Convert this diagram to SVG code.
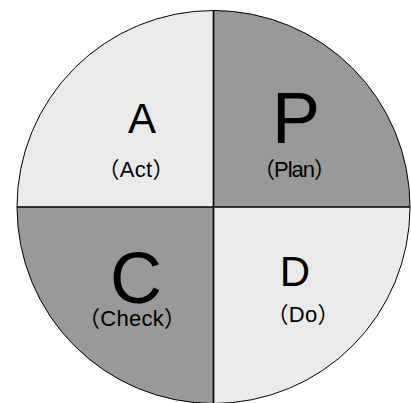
<svg xmlns="http://www.w3.org/2000/svg" width="411" height="403" viewBox="0 0 411 403">
  <style>
    .light { fill: #eaeaea; }
    .dark { fill: #999999; }
    .divider { stroke: #000; stroke-width: 1.6; fill: none; }
    .rim { stroke: #000; stroke-width: 1; fill: none; }
    text { font-family: "Liberation Sans", "Noto Sans CJK JP", sans-serif; fill: #000; text-anchor: middle; }
    .big { font-size: 42px; }
    .huge { font-size: 72px; }
    .sub { font-size: 22px; }
  </style>
  <rect width="411" height="403" fill="#ffffff"/>

  <!-- Act: top-left quadrant -->
  <g id="act">
    <path class="light" d="M213.5,207 H17 A196.5,196.5 0 0 1 213.5,10.5 Z"/>
    <text class="big" x="142" y="133">A</text>
    <text class="sub" x="136" y="177" textLength="77" lengthAdjust="spacing">（Act）</text>
  </g>

  <!-- Plan: top-right quadrant -->
  <g id="plan">
    <path class="dark" d="M213.5,207 V10.5 A196.5,196.5 0 0 1 410,207 Z"/>
    <text class="huge" x="296" y="143">P</text>
    <text class="sub" x="294.5" y="177" textLength="83" lengthAdjust="spacing">（Plan）</text>
  </g>

  <!-- Do: bottom-right quadrant -->
  <g id="do">
    <path class="light" d="M213.5,207 H410 A196.5,196.5 0 0 1 213.5,403.5 Z"/>
    <text class="big" x="295" y="286">D</text>
    <text class="sub" x="303" y="322" textLength="73" lengthAdjust="spacing">（Do）</text>
  </g>

  <!-- Check: bottom-left quadrant -->
  <g id="check">
    <path class="dark" d="M213.5,207 V403.5 A196.5,196.5 0 0 1 17,207 Z"/>
    <text class="huge" x="136" y="303">C</text>
    <text class="sub" x="132" y="326" textLength="108" lengthAdjust="spacing">（Check）</text>
  </g>

  <!-- outline and dividing lines -->
  <g id="lines">
    <circle class="rim" cx="213.5" cy="207" r="196.5"/>
    <line class="divider" x1="213.5" y1="10.5" x2="213.5" y2="403.5"/>
    <line class="divider" x1="17" y1="207" x2="410" y2="207"/>
  </g>
</svg>
